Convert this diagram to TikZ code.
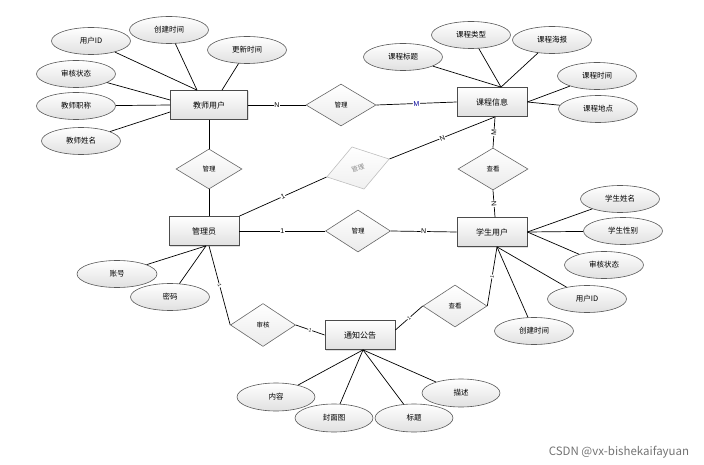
\documentclass[tikz,border=0pt]{standalone}
\usepackage{fontspec}
\newfontfamily\cjk{Noto Sans CJK SC}
\setsansfont{Liberation Sans}
\usepackage{tikz}
\usepackage{xcolor}
\usetikzlibrary{arrows,shapes.geometric,shadows}

\tikzset{
  entity/.style={rectangle,draw=black!70,line width=0.8pt,top color=white,bottom color=black!12,
    minimum width=70pt,minimum height=29pt,inner sep=0pt,font=\cjk\fontsize{8}{9}\selectfont,
    drop shadow={opacity=0.25,shadow xshift=1pt,shadow yshift=-1pt}},
  attr/.style={ellipse,draw=black!65,line width=0.6pt,top color=white,bottom color=black!12,
    minimum width=79pt,minimum height=27pt,inner sep=0pt,font=\cjk\fontsize{7.5}{8}\selectfont},
  rel/.style={diamond,draw=black!60,line width=0.6pt,top color=white,bottom color=black!8,
    minimum width=66pt,minimum height=42pt,inner sep=0pt,font=\cjk\fontsize{6.5}{7}\selectfont},
  card/.style={midway,sloped,fill=white,inner sep=0.6pt,font=\sffamily\fontsize{7}{7}\selectfont},
  smallcard/.style={card,font=\sffamily\fontsize{5}{5}\selectfont},
}

\begin{document}
\begin{tikzpicture}[x=1pt,y=-1pt,line width=0.7pt]
      \useasboundingbox (0,0) rectangle (704,465);
%% entities
      \node (TU) [entity,minimum width=77pt] at (209,105) {教师用户};
      \node (KC) [entity] at (492,102) {课程信息};
      \node (GLY) [entity] at (204,231) {管理员};
      \node (XS) [entity] at (492,232) {学生用户};
      \node (TZ) [entity] at (360,335) {通知公告};
%% relations
      \node (R1) [rel,minimum width=70pt] at (341,105) {管理};
      \node (R2) [rel,minimum height=40pt] at (209,169) {管理};
      \node (R3) [rel,rotate=16,minimum width=65pt,minimum height=44pt,draw=black!25,
                  bottom color=black!6,text=black!45] at (358,168) {管理};
      \node (R4) [rel,minimum width=65pt] at (358,231) {管理};
      \node (R5) [rel,minimum width=70pt] at (493,169) {查看};
      \node (R6) [rel,minimum width=65pt,minimum height=43pt] at (263,325) {审核};
      \node (R7) [rel,minimum width=64pt] at (455,306) {查看};
%% teacher attributes
      \node (TU1) [attr] at (91,41) {用户ID};
      \node (TU2) [attr] at (169,30) {创建时间};
      \node (TU3) [attr] at (247,50) {更新时间};
      \node (TU4) [attr] at (76,74) {审核状态};
      \node (TU5) [attr] at (76,106) {教师职称};
      \node (TU6) [attr] at (81,141) {教师姓名};
      \draw (TU1) -- ([xshift=-12pt]TU.north);
      \draw (TU2) -- ([xshift=-12pt]TU.north);
      \draw (TU3) -- ([xshift=13pt]TU.north);
      \draw (TU4) -- ([yshift=5pt]TU.west);
      \draw (TU5) -- (TU.west);
      \draw (TU6) -- ([yshift=-7pt]TU.west);
%% course attributes
      \node (KC1) [attr] at (403,57) {课程标题};
      \node (KC2) [attr] at (471,35) {课程类型};
      \node (KC3) [attr] at (552,40) {课程海报};
      \node (KC4) [attr] at (597,76) {课程时间};
      \node (KC5) [attr] at (598,109) {课程地点};
      \draw (KC1) -- ([xshift=9pt]KC.north);
      \draw (KC2) -- ([xshift=9pt]KC.north);
      \draw (KC3) -- ([xshift=9pt]KC.north);
      \draw (KC4) -- (KC.east);
      \draw (KC5) -- (KC.east);
%% student attributes
      \node (XS1) [attr] at (620,199) {学生姓名};
      \node (XS2) [attr] at (623,231) {学生性别};
      \node (XS3) [attr] at (604,265) {审核状态};
      \node (XS4) [attr] at (587,299) {用户ID};
      \node (XS5) [attr] at (534,331) {创建时间};
      \draw (XS1) -- (XS.east);
      \draw (XS2) -- (XS.east);
      \draw (XS3) -- (XS.east);
      \draw (XS4) -- ([xshift=5pt]XS.south);
      \draw (XS5) -- ([xshift=5pt]XS.south);
%% admin attributes
      \node (GLY1) [attr,minimum width=80pt] at (117,274) {账号};
      \node (GLY2) [attr] at (170,297) {密码};
      \draw (GLY1) -- ([xshift=2pt]GLY.south);
      \draw (GLY2) -- ([xshift=2pt]GLY.south);
%% notice attributes
      \node (TZ1) [attr,minimum width=78pt,minimum height=28pt] at (276,397) {内容};
      \node (TZ2) [attr,minimum width=78pt,minimum height=28pt] at (334,418) {封面图};
      \node (TZ3) [attr,minimum width=78pt,minimum height=28pt] at (414,418) {标题};
      \node (TZ4) [attr,minimum width=78pt,minimum height=28pt] at (461,393) {描述};
      \draw (TZ1) -- ([xshift=3pt]TZ.south);
      \draw (TZ2) -- ([xshift=3pt]TZ.south);
      \draw (TZ3) -- ([xshift=3pt]TZ.south);
      \draw (TZ4) -- ([xshift=3pt]TZ.south);
%% relationships
      \draw (TU.east) -- (R1.west) node [card] {N};
      \draw (R1.east) -- (KC.west) node [card,text=blue!60!black] {M};
      \draw (TU.south) -- (R2.north);
      \draw (R2.south) -- ([xshift=5pt]GLY.north);
      \draw (GLY.north east) -- (R3.west) node [card] {1};
      \draw (R3.east) -- ([xshift=3pt]KC.south) node [card] {N};
      \draw ([xshift=3pt]KC.south) -- (R5.north) node [card] {M};
      \draw (R5.south) -- ([xshift=3pt]XS.north) node [card] {N};
      \draw (GLY.east) -- (R4.west) node [card] {1};
      \draw (R4.east) -- (XS.west) node [card] {N};
      \draw ([xshift=5pt]GLY.south) -- (R6.west) node [smallcard] {1};
      \draw (R6.east) -- (TZ.west) node [smallcard] {1};
      \draw ([yshift=5pt]TZ.east) -- (R7.west) node [smallcard] {1};
      \draw (R7.east) -- ([xshift=5pt]XS.south) node [smallcard] {1};
%%
      \node (WM) [font=\cjk\fontsize{11.5}{12}\selectfont,text=black!55] at (619,452) {CSDN @vx-bishekaifayuan};
    \end{tikzpicture}
\end{document}
